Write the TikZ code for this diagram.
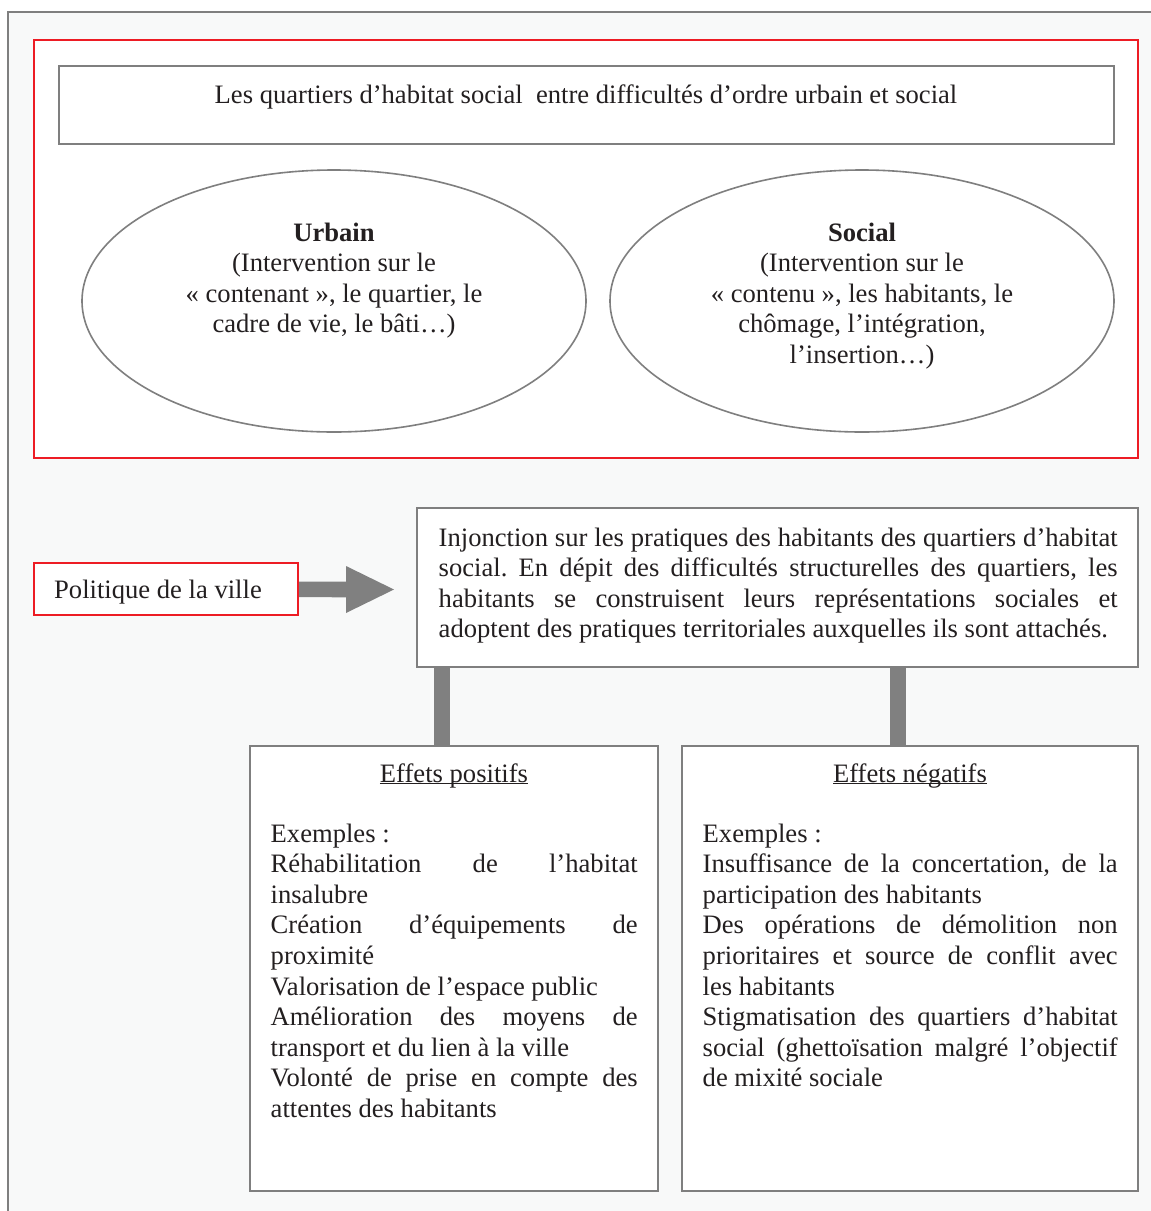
\documentclass[tikz,border=0pt]{standalone}
\usepackage{fontspec}
\setmainfont{Liberation Serif}
\frenchspacing
\usetikzlibrary{shapes.geometric,fit}
\definecolor{txt}{HTML}{231F20}
\definecolor{gline}{HTML}{7F7F7F}
\definecolor{rline}{HTML}{ED1C24}
\definecolor{bg}{HTML}{F8F9F9}
\definecolor{bar}{HTML}{808080}
\newcommand\myul[1]{\setbox0\hbox{#1}\rlap{\rule[-2.4pt]{\wd0}{1.3pt}}\box0}
\newcommand\jl[1]{\makebox[\linewidth][s]{#1}}
\tikzset{
  gbox/.style={draw=gline, line width=2pt, fill=white, inner sep=0pt},
  rbox/.style={draw=rline, line width=2pt, fill=white, inner sep=0pt},
  ell/.style={ellipse, draw=gline, line width=1.6pt, fill=white, inner sep=0pt},
  txtnode/.style={inner sep=0pt, text=txt, font=\fontsize{26.6}{30.6}\selectfont},
  barline/.style={draw=bar, line width=16pt},
}
\begin{document}
\begin{tikzpicture}[x=1pt,y=-1pt]
\useasboundingbox (0,0) rectangle (1151,1211);
% outer frame
\node[draw=gline, line width=2pt, fill=bg, inner sep=0pt, fit={(8,12)(1175,1235)}] (frame) {};
% red top box
\node[rbox, fit={(33.5,39.5)(1138,458)}] (top) {};
\node[gbox, fit={(58.5,65.5)(1113.5,143.5)}] (title) {};
\node[txtnode, anchor=base] (titlet) at (586,103) {Les quartiers d’habitat social\ \ entre difficultés d’ordre urbain et social};
\node[ell, minimum width=504pt, minimum height=262pt] (urb) at (334,301) {};
\node[ell, minimum width=504pt, minimum height=262pt] (soc) at (862,301) {};
\node[txtnode, anchor=base] (urbt) at (334,241) {\parbox[t]{440pt}{\centering\textbf{Urbain}\\(Intervention sur le\\« contenant », le quartier, le\\cadre de vie, le bâti…)}};
\node[txtnode, anchor=base] (soct) at (862,241) {\parbox[t]{440pt}{\centering\textbf{Social}\\(Intervention sur le\\« contenu », les habitants, le\\chômage, l’intégration,\\l’insertion…)}};
% connectors
\coordinate (c1) at (442,0);
\coordinate (c2) at (898,0);
\node[gbox, fit={(417,508)(1138,667)}] (inj) {};
\node[gbox, fit={(250,746)(658,1191)}] (pos) {};
\node[gbox, fit={(682,746)(1138,1191)}] (neg) {};
\draw[barline] (inj.south -| c1) -- (pos.north -| c1);
\draw[barline] (inj.south -| c2) -- (neg.north -| c2);
% politique
\node[rbox, fit={(33.5,563)(298,615)}] (pol) {};
\node[txtnode, anchor=base west] (polt) at (54,598) {Politique de la ville};
\fill[bar] ([yshift=7.5pt]pol.east) -- (346,581.7) -- (346,566) -- (394,589.5) -- (346,613) -- (346,597.3) -- ([yshift=-8.1pt]pol.east) -- cycle;
% injonction text
\node[txtnode, anchor=base west] (injt) at (438.5,546) {\parbox[t]{679pt}{\jl{Injonction sur les pratiques des habitants des quartiers d’habitat}\\\jl{social. En dépit des difficultés structurelles des quartiers, les}\\\jl{habitants se construisent leurs représentations sociales et}\\adoptent des pratiques territoriales auxquelles ils sont attachés.}};
% effets
\node[txtnode, anchor=base] (post) at (454,782) {\myul{Effets positifs}};
\node[txtnode, anchor=base] (negt) at (910,782) {\myul{Effets négatifs}};
\node[txtnode, anchor=base west] (posl) at (270.5,842) {\parbox[t]{367pt}{Exemples :\\\jl{Réhabilitation de l’habitat}\\insalubre\\\jl{Création d’équipements de}\\proximité\\Valorisation de l’espace public\\\jl{Amélioration des moyens de}\\transport et du lien à la ville\\\jl{Volonté de prise en compte des}\\attentes des habitants}};
\node[txtnode, anchor=base west] (negl) at (702.5,842) {\parbox[t]{415pt}{Exemples :\\\jl{Insuffisance de la concertation, de la}\\participation des habitants\\\jl{Des opérations de démolition non}\\\jl{prioritaires et source de conflit avec}\\les habitants\\\jl{Stigmatisation des quartiers d’habitat}\\\jl{social (ghettoïsation malgré l’objectif}\\de mixité sociale}};
\end{tikzpicture}
\end{document}
